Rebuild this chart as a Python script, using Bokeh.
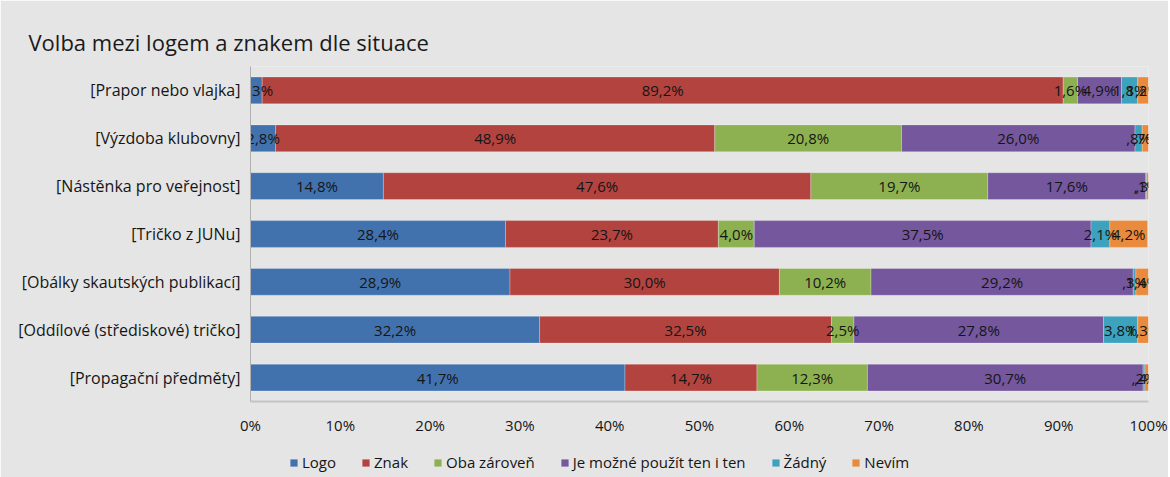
from bokeh.plotting import figure
from bokeh.layouts import column
from bokeh.models import ColumnDataSource, FactorRange, Range1d, FixedTicker, Legend, LegendItem
from bokeh.core.properties import value
from bokeh.embed import file_html
from bokeh.resources import INLINE

categories = ["[Prapor nebo vlajka]", "[Výzdoba klubovny]", "[Nástěnka pro veřejnost]",
              "[Tričko z JUNu]", "[Obálky skautských publikací]",
              "[Oddílové (střediskové) tričko]", "[Propagační předměty]"]
series = ["Logo", "Znak", "Oba zároveň", "Je možné použít ten i ten", "Žádný", "Nevím"]
logo = [1.3, 2.8, 14.8, 28.4, 28.9, 32.2, 41.7]
znak = [89.2, 48.9, 47.6, 23.7, 30.0, 32.5, 14.7]
oba = [1.6, 20.8, 19.7, 4.0, 10.2, 2.5, 12.3]
oboji = [4.9, 26.0, 17.6, 37.5, 29.2, 27.8, 30.7]
zadny = [1.8, 0.8, 0.1, 2.1, 0.3, 3.8, 0.2]
nevim = [1.2, 0.7, 0.3, 4.2, 1.4, 1.3, 0.4]
x_ticks = [0, 10, 20, 30, 40, 50, 60, 70, 80, 90, 100]
x_tick_labels = ["0%", "10%", "20%", "30%", "40%", "50%", "60%", "70%", "80%", "90%", "100%"]
colors = ["#4272ae", "#b3433f", "#8db151", "#74579d", "#3ca2bd", "#e98a3d"]

FONT = "Open Sans"
FS = "15px"
TXT = "#151515"
BG = "#e5e5e5"
W = 1168

values = [logo, znak, oba, oboji, zadny, nevim]
keys = ["s%d" % i for i in range(len(series))]
data = {"cat": categories}
for k, v in zip(keys, values):
    data[k] = v
src = ColumnDataSource(data)

p = figure(width=W, height=446, output_backend="svg", toolbar_location=None,
           y_range=FactorRange(*reversed(categories)), x_range=Range1d(0, 100),
           min_border_left=250, min_border_right=W - 1148, min_border_top=66, min_border_bottom=45)
p.background_fill_color = BG
p.border_fill_color = BG
p.outline_line_color = None
p.grid.grid_line_color = None

renderers = p.hbar_stack(keys, y="cat", height=0.56, color=colors, source=src,
                         line_color="white", line_alpha=0.25, line_width=1)

# labels at segment centers
lx, ly, lt = [], [], []
for i, c in enumerate(categories):
    acc = 0.0
    for v in values:
        val = v[i]
        lx.append(acc + val / 2.0)
        ly.append(c)
        s = ("%.1f" % val).replace(".", ",")
        if s.startswith("0,"):
            s = s[1:]
        lt.append(s + "%")
        acc += val
lsrc = ColumnDataSource(dict(x=lx, y=ly, t=lt))
p.text(x="x", y="y", text="t", source=lsrc, text_align="center", text_baseline="middle",
       text_font=value(FONT), text_font_size=FS, text_color=TXT)

# axes
p.xaxis.ticker = FixedTicker(ticks=x_ticks)
p.xaxis.major_label_overrides = {t: l for t, l in zip(x_ticks, x_tick_labels)}
p.xaxis.major_label_text_font = FONT
p.xaxis.major_label_text_font_size = FS
p.xaxis.major_label_text_color = TXT
p.xaxis.major_tick_line_color = None
p.xaxis.minor_tick_line_color = None
p.xaxis.axis_line_color = "#c4c4c4"
p.xaxis.axis_line_width = 2
p.xaxis.major_label_standoff = 7

p.yaxis.major_label_text_font = FONT
p.yaxis.major_label_text_font_size = "16px"
p.yaxis.major_label_text_color = TXT
p.yaxis.major_tick_line_color = None
p.yaxis.minor_tick_line_color = None
p.yaxis.axis_line_color = "#b0b0b0"
p.yaxis.major_label_standoff = 4

# title
p.title.text = "Volba mezi logem a znakem dle situace"
p.title.text_font = FONT
p.title.text_font_size = "22px"
p.title.text_font_style = "normal"
p.title.text_color = "#1a1a1a"
p.title.align = "left"
p.title.offset = -222
p.title.standoff = 20

# legend in its own strip below the chart (frame aligned with the chart's frame)
q = figure(width=W, height=33, output_backend="svg", toolbar_location=None,
           x_axis_type=None, y_axis_type=None, x_range=Range1d(0, 1), y_range=Range1d(0, 1),
           min_border_left=0, min_border_right=0, min_border_top=0, min_border_bottom=0,
           margin=(-2, 0, 0, 0))
q.background_fill_color = BG
q.border_fill_color = BG
q.outline_line_color = BG
q.outline_line_width = 4
q.grid.grid_line_color = None
dummies = [q.rect(x=[5], y=[5], width=1, height=1, fill_color=c, line_color=None) for c in colors]
items = [LegendItem(label=s, renderers=[r]) for s, r in zip(series, dummies)]
leg = Legend(items=items, orientation="horizontal", location=(39, 5),
             glyph_width=9, glyph_height=9, label_standoff=4, spacing=25,
             label_text_font=FONT, label_text_font_size=FS, label_text_color=TXT,
             background_fill_alpha=0, border_line_color=None, padding=2, margin=0)
q.add_layout(leg)

layout = column(p, q, spacing=0)
open("out.html", "w").write(file_html(layout, INLINE))
